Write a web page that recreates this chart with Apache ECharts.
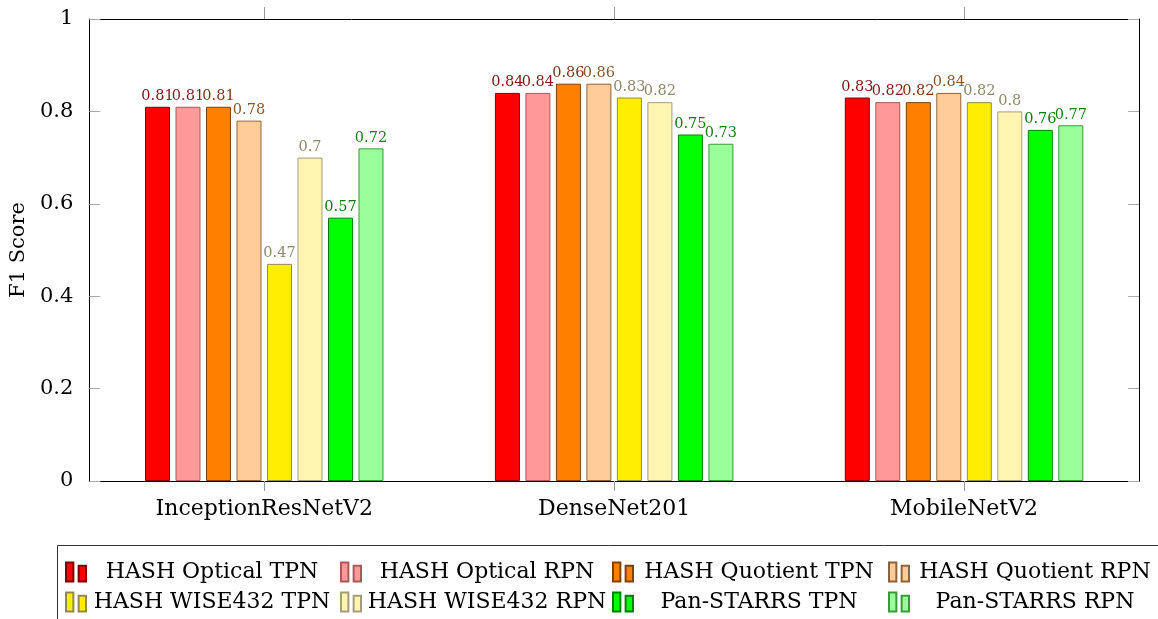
<!DOCTYPE html>
<html>
<head>
<meta charset="utf-8">
<script src="https://cdn.jsdelivr.net/npm/echarts@6/dist/echarts.min.js"></script>
<style>
html,body{margin:0;padding:0;background:#fff;}
#chart{width:1158px;height:619px;}
</style>
</head>
<body>
<div id="chart"></div>
<script>
const categories = ['InceptionResNetV2', 'DenseNet201', 'MobileNetV2'];
const seriesNames = ['HASH Optical TPN', 'HASH Optical RPN', 'HASH Quotient TPN', 'HASH Quotient RPN',
  'HASH WISE432 TPN', 'HASH WISE432 RPN', 'Pan-STARRS TPN', 'Pan-STARRS RPN'];
const opticalTPN = [0.81, 0.84, 0.83];
const opticalRPN = [0.81, 0.84, 0.82];
const quotientTPN = [0.81, 0.86, 0.82];
const quotientRPN = [0.78, 0.86, 0.84];
const wiseTPN = [0.47, 0.83, 0.82];
const wiseRPN = [0.70, 0.82, 0.80];
const panTPN = [0.57, 0.75, 0.76];
const panRPN = [0.72, 0.73, 0.77];
const yTicks = [0, 0.2, 0.4, 0.6, 0.8, 1];

const values = [opticalTPN, opticalRPN, quotientTPN, quotientRPN, wiseTPN, wiseRPN, panTPN, panRPN];
const fills = ['#ff0000', '#ff9999', '#ff8000', '#ffcc99', '#ffee00', '#fff5b0', '#00ff00', '#99ff99'];
const edges = ['#800000', '#a85a5a', '#7f4000', '#8f6438', '#8f8a50', '#a39d7c', '#008000', '#3a9a3a'];
const labelColors = ['#7f1010', '#802020', '#7f3410', '#85582e', '#8c896c', '#8c896c', '#0a7a0a', '#1a7f1a'];

const FONT = 'DejaVu Serif';

const series = seriesNames.map((name, i) => ({
  name: name,
  type: 'bar',
  data: values[i],
  barWidth: 25,
  barGap: '22%',
  itemStyle: { color: fills[i], borderColor: edges[i], borderWidth: 1 },
  label: {
    show: true, position: 'top', distance: 3,
    fontFamily: FONT, fontSize: 14.5, color: labelColors[i],
    formatter: p => String(p.value)
  }
}));

const colLeft = [65, 340, 612, 888];
const rowTop = [561, 591];
const legends = seriesNames.map((name, i) => ({
  data: [name],
  orient: 'horizontal',
  left: colLeft[i % 4],
  top: rowTop[Math.floor(i / 4)],
  padding: 0,
  itemWidth: 20,
  itemHeight: 20,
  icon: 'path://M0,2h7v18h-7z M12,5h7v15h-7z',
  selectedMode: false,
  formatter: n => '{a|' + n + '}',
  textStyle: {
    fontFamily: FONT, fontSize: 22, color: '#000',
    rich: { a: { width: 242, align: 'center', fontFamily: FONT, fontSize: 22, color: '#000' } }
  }
}));

const chart = echarts.init(document.getElementById('chart'), null, { renderer: 'canvas' });
chart.setOption({
  animation: false,
  backgroundColor: '#fff',
  textStyle: { fontFamily: FONT },
  grid: { left: 87, right: 19, top: 19, bottom: 138, containLabel: false },
  legend: legends,
  xAxis: [{
    type: 'category', data: categories, position: 'bottom',
    axisLine: { show: true, onZero: false, lineStyle: { color: '#000', width: 1 } },
    axisTick: { show: true, alignWithLabel: true, inside: false, length: 10, lineStyle: { color: '#999' } },
    axisLabel: { fontFamily: FONT, fontSize: 22, color: '#000', margin: 17 },
    splitLine: { show: false }
  }, {
    type: 'category', data: categories, position: 'top',
    axisLine: { show: true, onZero: false, lineStyle: { color: '#000', width: 1 } },
    axisTick: { show: true, alignWithLabel: true, inside: false, length: 12, lineStyle: { color: '#999' } },
    axisLabel: { show: false },
    splitLine: { show: false }
  }],
  yAxis: [{
    type: 'value', min: 0, max: 1, interval: 0.2, position: 'left',
    name: 'F1 Score', nameLocation: 'middle', nameGap: 60, nameRotate: 90,
    nameTextStyle: { fontFamily: FONT, fontSize: 21, color: '#000' },
    axisLine: { show: true, onZero: false, lineStyle: { color: '#000', width: 1 } },
    axisTick: { show: true, inside: true, length: 11, lineStyle: { color: '#aaa' } },
    axisLabel: { fontFamily: FONT, fontSize: 21, color: '#000', margin: 16,
      formatter: v => String(yTicks.find(t => Math.abs(t - v) < 1e-9) ?? v) },
    splitLine: { show: false }
  }, {
    type: 'value', min: 0, max: 1, interval: 0.2, position: 'right',
    axisLine: { show: true, onZero: false, lineStyle: { color: '#000', width: 1 } },
    axisTick: { show: true, inside: true, length: 11, lineStyle: { color: '#aaa' } },
    axisLabel: { show: false },
    splitLine: { show: false }
  }],
  series: series,
  graphic: [{
    type: 'rect', silent: true, z: -1,
    shape: { x: 57.5, y: 545.5, width: 1110, height: 100 },
    style: { fill: 'none', stroke: '#333', lineWidth: 1 }
  }]
});
</script>
</body>
</html>
